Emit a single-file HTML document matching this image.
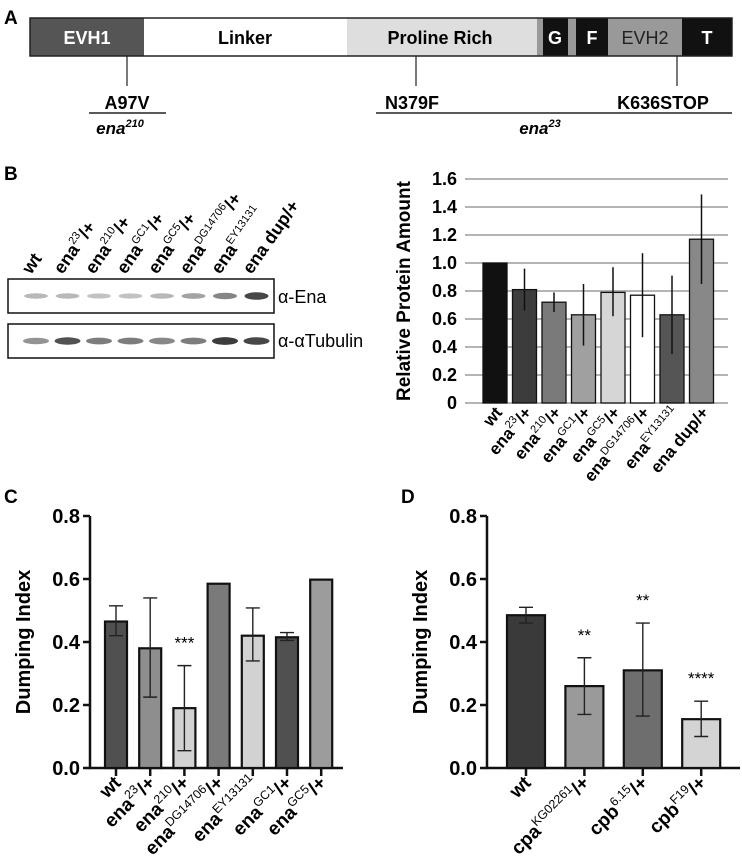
<!DOCTYPE html>
<html><head><meta charset="utf-8"><style>
body{margin:0;background:#fff}
svg{display:block;font-family:"Liberation Sans",Arial,sans-serif}
</style></head><body>
<svg id="fig" width="742" height="858" viewBox="0 0 742 858">
<!-- Panel A -->
<g font-weight="bold">
<text x="4" y="24" font-size="19">A</text>
<rect x="30" y="18" width="114" height="38" fill="#555"/>
<rect x="144" y="18" width="203" height="38" fill="#fff"/>
<rect x="347" y="18" width="190" height="38" fill="#dedede"/>
<rect x="537" y="18" width="6" height="38" fill="#999"/>
<rect x="543" y="18" width="25" height="38" fill="#111"/>
<rect x="568" y="18" width="8" height="38" fill="#999"/>
<rect x="576" y="18" width="32" height="38" fill="#111"/>
<rect x="608" y="18" width="74" height="38" fill="#999"/>
<rect x="682" y="18" width="50" height="38" fill="#111"/>
<rect x="30" y="18" width="702" height="38" fill="none" stroke="#222" stroke-width="1.5"/>
<text x="87" y="44" fill="#fff" font-size="18" text-anchor="middle">EVH1</text>
<text x="245" y="44" font-size="18" text-anchor="middle">Linker</text>
<text x="440" y="44" font-size="18" text-anchor="middle">Proline Rich</text>
<text x="555" y="44" fill="#fff" font-size="18" text-anchor="middle">G</text>
<text x="592" y="44" fill="#fff" font-size="18" text-anchor="middle">F</text>
<text x="645" y="44" fill="#222" font-size="18" font-weight="normal" text-anchor="middle">EVH2</text>
<text x="707" y="44" fill="#fff" font-size="18" text-anchor="middle">T</text>
<g stroke="#222" stroke-width="1.2"><line x1="127" y1="56" x2="127" y2="86"/><line x1="416" y1="56" x2="416" y2="86"/><line x1="677" y1="56" x2="677" y2="86"/>
<line x1="89" y1="113" x2="166" y2="113" stroke-width="1.5"/><line x1="376" y1="113" x2="732" y2="113" stroke-width="1.5"/></g>
<text x="127" y="109" font-size="18" text-anchor="middle">A97V</text>
<text x="412" y="109" font-size="18" text-anchor="middle">N379F</text>
<text x="663" y="109" font-size="18" text-anchor="middle">K636STOP</text>
<text x="120" y="134" font-size="17" font-style="italic" text-anchor="middle">ena<tspan font-size="11" dy="-7">210</tspan></text>
<text x="540" y="134" font-size="17" font-style="italic" text-anchor="middle">ena<tspan font-size="11" dy="-7">23</tspan></text>
</g>
<!-- Panel B blot -->
<g>
<text x="4" y="180" font-size="19" font-weight="bold">B</text>
<rect x="8" y="279" width="266" height="34" fill="#fff" stroke="#111" stroke-width="1.5"/>
<rect x="8" y="324" width="266" height="34" fill="#fff" stroke="#111" stroke-width="1.5"/>
<g id="bands"></g>
<text x="278" y="303" font-size="18">α-Ena</text>
<text x="278" y="347" font-size="18">α-αTubulin</text>
<g id="blotlabels" font-weight="bold" font-size="18"></g>
</g>
<g id="chartB"></g>
<g id="chartC"></g>
<g id="chartD"></g>
</svg>
<script>
const NS="http://www.w3.org/2000/svg";
// Panel B data
const bCats=[["wt",""],["ena","23","/+"],["ena","210","/+"],["ena","GC1","/+"],["ena","GC5","/+"],["ena","DG14706","/+"],["ena","EY13131",""],["ena dup/+",""]];
const bVals=[1.0,0.81,0.72,0.63,0.79,0.77,0.63,1.17];
const bLo=[1.0,0.66,0.65,0.41,0.62,0.47,0.35,0.85];
const bHi=[1.0,0.96,0.79,0.85,0.97,1.07,0.91,1.49];
const bTicks=["0","0.2","0.4","0.6","0.8","1.0","1.2","1.4","1.6"];
const bColors=["#111","#3c3c3c","#7a7a7a","#a0a0a0","#d6d6d6","#fff","#555","#888"];
const enaBand=[0.35,0.35,0.3,0.3,0.35,0.45,0.6,0.9];
const tubBand=[0.5,0.8,0.6,0.6,0.55,0.6,0.9,0.85];
// Panel C data
const cCats=[["wt",""],["ena","23","/+"],["ena","210","/+"],["ena","DG14706","/+"],["ena","EY13131",""],["ena","GC1","/+"],["ena","GC5","/+"]];
const cVals=[0.465,0.38,0.19,0.585,0.42,0.415,0.598];
const cLo=[0.42,0.225,0.055,null,0.34,0.405,null];
const cHi=[0.515,0.54,0.325,null,0.508,0.43,null];
const cStars=["","","***","","","",""];
const cColors=["#505050","#8e8e8e","#d2d2d2","#7a7a7a","#d2d2d2","#505050","#9c9c9c"];
// Panel D data
const dCats=[["wt",""],["cpa","KG02261","/+"],["cpb","6.15","/+"],["cpb","F19","/+"]];
const dVals=[0.485,0.26,0.31,0.155];
const dLo=[0.46,0.17,0.165,0.1];
const dHi=[0.51,0.35,0.46,0.212];
const dStars=["","**","**","****"];
const dColors=["#3a3a3a","#9a9a9a","#6e6e6e","#d4d4d4"];
const cdTicks=["0.0","0.2","0.4","0.6","0.8"];

function mk(tag,attrs,parent){const e=document.createElementNS(NS,tag);for(const k in attrs)e.setAttribute(k,attrs[k]);parent.appendChild(e);return e;}
function catLabel(parent,cat,x,y,size,ang){
  ang=ang||-45;
  const t=mk("text",{x:x,y:y,"text-anchor":"end","font-size":size,"font-weight":"bold",transform:`rotate(${ang} ${x} ${y})`},parent);
  
  
  t.appendChild(document.createTextNode(cat[0]));
  if(cat[1]){const s=mk("tspan",{"font-size":size*0.65,dy:-size*0.42,"font-weight":"normal"},t);s.textContent=cat[1];
    if(cat[2]){const r=mk("tspan",{dy:size*0.42},t);r.textContent=cat[2];}}
}
// blot
(function(){
  const g=document.getElementById("bands"),L=document.getElementById("blotlabels");
  const xs=n=>36+n*31.5;
  enaBand.forEach((v,i)=>{const b=mk("ellipse",{cx:xs(i),cy:296,rx:12,ry:2+v*2,fill:"#000",opacity:v*0.8},g);
    });
  tubBand.forEach((v,i)=>{const b=mk("ellipse",{cx:xs(i),cy:341,rx:13,ry:2.5+v*1.5,fill:"#000",opacity:v*0.85},g);
    });
  bCats.forEach((c,i)=>{const x=xs(i)-5,y=275;
    const t=mk("text",{x:x,y:y,transform:`rotate(-55 ${x} ${y})`},L);
    
    t.appendChild(document.createTextNode(c[0]));
    if(c[1]){const s=mk("tspan",{"font-size":11,dy:-8,"font-weight":"normal"},t);s.textContent=c[1];if(c[2]){const r=mk("tspan",{dy:8},t);r.textContent=c[2];}}});
})();
// Chart B
(function(){
  const g=document.getElementById("chartB");
  const x0=465,x1=728,yT=179,yB=403,max=1.6;
  const y=v=>yB-(v/max)*(yB-yT);
  const step=29.5,bx=i=>483+12+i*step;
  bTicks.forEach(t=>{const v=parseFloat(t);
    const l=mk("line",{x1:x0,x2:x1,y1:y(v),y2:y(v),stroke:"#888","stroke-width":1.3},g);
    
    const tx=mk("text",{x:x0-8,y:y(v)+6,"text-anchor":"end","font-size":18,"font-weight":"bold"},g);
    tx.textContent=t;});
  const yl=mk("text",{x:410,y:(yT+yB)/2,"text-anchor":"middle","font-size":19,"font-weight":"bold",transform:`rotate(-90 410 ${(yT+yB)/2})`},g);
  yl.textContent="Relative Protein Amount";
  bVals.forEach((v,i)=>{
    const r=mk("rect",{x:bx(i)-12,y:y(v),width:24,height:yB-y(v),fill:bColors[i],stroke:"#111","stroke-width":1.3},g);
    
    if(bHi[i]!==bLo[i]){const e=mk("line",{x1:bx(i),x2:bx(i),y1:y(bHi[i]),y2:y(bLo[i]),stroke:"#111","stroke-width":1.5},g);
      }
    catLabel(g,bCats[i],bx(i)+8,yB+10,17,-50);
  });
})();
function dump(id,cats,vals,lo,hi,stars,colors,ax,xEnd,centers,bw,panel){
  const g=document.getElementById(id);
  const yT=516,yB=768,max=0.8,y=v=>yB-(v/max)*(yB-yT);
  const pl=mk("text",{x:ax-86,y:503,"font-size":19,"font-weight":"bold"},g);
  pl.textContent=panel;
  const a=mk("path",{d:`M${ax} ${yT}V${yB}H${xEnd}`,fill:"none",stroke:"#111","stroke-width":2.5},g);
  
  cdTicks.forEach(t=>{const v=parseFloat(t);
    mk("line",{x1:ax-7,x2:ax,y1:y(v),y2:y(v),stroke:"#111","stroke-width":2.5},g);
    const tx=mk("text",{x:ax-10,y:y(v)+7,"text-anchor":"end","font-size":20,"font-weight":"bold"},g);
    tx.textContent=t;});
  const tx0=ax-60;
  const yl=mk("text",{x:tx0,y:(yT+yB)/2,"text-anchor":"middle","font-size":20,"font-weight":"bold",transform:`rotate(-90 ${tx0} ${(yT+yB)/2})`},g);
  yl.textContent="Dumping Index";
  vals.forEach((v,i)=>{const cx=centers(i);
    const r=mk("rect",{x:cx-bw/2,y:y(v),width:bw,height:yB-y(v),fill:colors[i],stroke:"#111","stroke-width":2.2},g);
    
    mk("line",{x1:cx,x2:cx,y1:yB,y2:yB+8,stroke:"#111","stroke-width":2.5},g);
    if(hi[i]!=null){const e=mk("path",{d:`M${cx} ${y(hi[i])}V${y(lo[i])}M${cx-7} ${y(hi[i])}H${cx+7}M${cx-7} ${y(lo[i])}H${cx+7}`,stroke:"#222","stroke-width":1.4,fill:"none"},g);
      }
    if(stars[i]){const s=mk("text",{x:cx,y:(hi[i]!=null?y(hi[i]):y(v))-17,"text-anchor":"middle","font-size":17},g);
      s.textContent=stars[i];}
    catLabel(g,cats[i],cx+6,yB+16,19);
  });
}
dump("chartC",cCats,cVals,cLo,cHi,cStars,cColors,90,343,i=>116+i*34.2,22,"C");
dump("chartD",dCats,dVals,dLo,dHi,dStars,dColors,487,740,i=>526+i*58.4,38,"D");
</script>
</body></html>
